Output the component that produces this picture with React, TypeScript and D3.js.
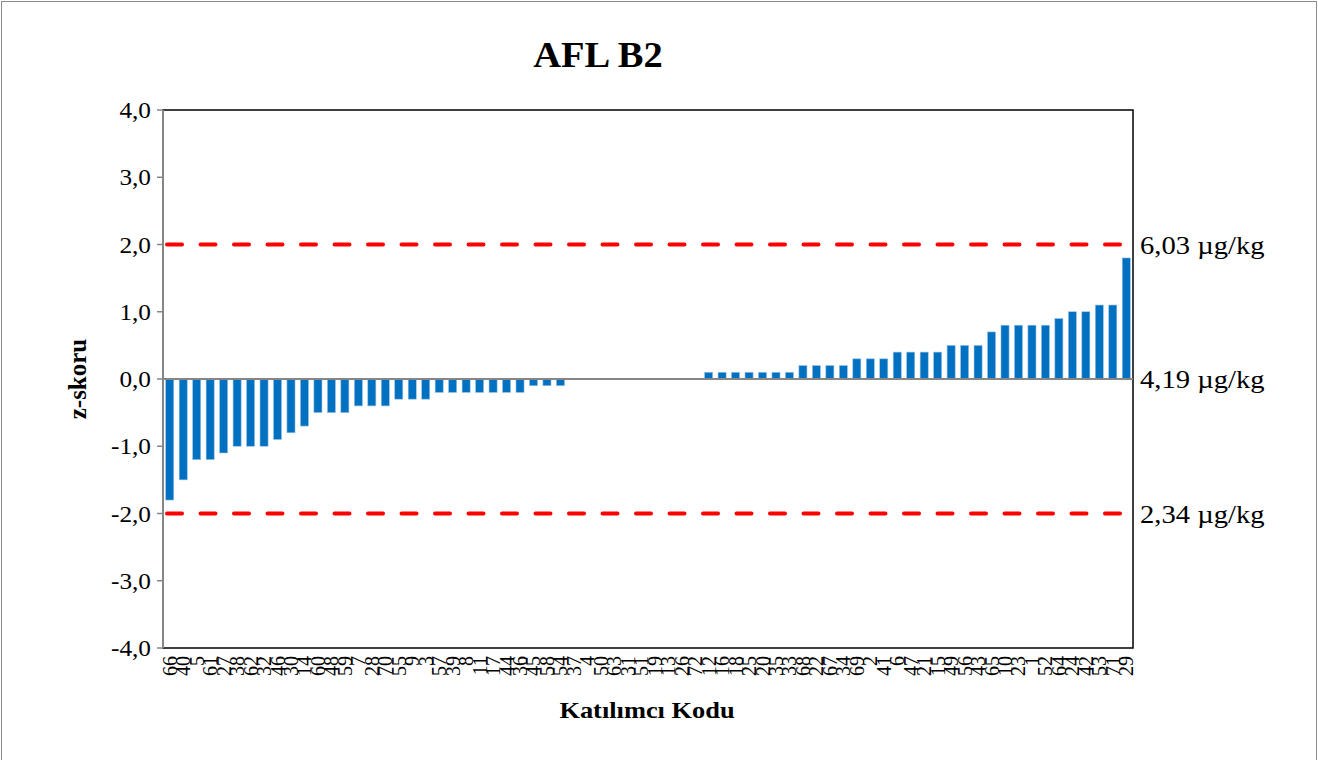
import React, { useRef, useEffect } from "react";
import * as d3 from "d3";

// participant codes, in the order shown on the x axis
const codes = [
  "66", "40", "5", "61", "27", "38", "62", "32", "46", "30", "14", "60", "48", "59", "7", "28", "70", "55",
  "9", "3", "57", "39", "8", "11", "17", "44", "36", "45", "58", "54", "37", "4", "50", "63", "31", "51",
  "19", "13", "26", "72", "12", "16", "18", "25", "20", "35", "33", "68", "22", "67", "34", "69", "2", "41",
  "6", "47", "21", "15", "49", "56", "43", "65", "10", "23", "1", "52", "64", "24", "42", "53", "71", "29",
];

const zScores = [
  -1.8, -1.5, -1.2, -1.2, -1.1, -1.0, -1.0, -1.0, -0.9, -0.8, -0.7, -0.5, -0.5, -0.5, -0.4, -0.4, -0.4, -0.3,
  -0.3, -0.3, -0.2, -0.2, -0.2, -0.2, -0.2, -0.2, -0.2, -0.1, -0.1, -0.1, 0, 0, 0, 0, 0, 0,
  0, 0, 0, 0, 0.1, 0.1, 0.1, 0.1, 0.1, 0.1, 0.1, 0.2, 0.2, 0.2, 0.2, 0.3, 0.3, 0.3,
  0.4, 0.4, 0.4, 0.4, 0.5, 0.5, 0.5, 0.7, 0.8, 0.8, 0.8, 0.8, 0.9, 1.0, 1.0, 1.1, 1.1, 1.8,
];

const yTicks = [4, 3, 2, 1, 0, -1, -2, -3, -4];

// reference lines: z value and matching concentration label
const refLines = [
  { z: 2, label: "6,03 µg/kg", dashed: true },
  { z: 0, label: "4,19 µg/kg", dashed: false },
  { z: -2, label: "2,34 µg/kg", dashed: true },
];

const W = 1318;
const H = 760;
const margin = { top: 110, right: 185, bottom: 112, left: 163 };
const serif = "'Liberation Serif', 'Times New Roman', serif";
const stretch = 1.1; // the picture is a little wider than tall

export default function App() {
  const ref = useRef<SVGSVGElement>(null);

  useEffect(() => {
    const svg = d3.select(ref.current);
    svg.selectAll("*").remove();

    const iw = W - margin.left - margin.right;
    const ih = H - margin.top - margin.bottom;

    const x = d3.scaleBand<string>().domain(codes.map((c, i) => `${i}`)).range([0, iw]).paddingInner(0.4).paddingOuter(0.2);
    const y = d3.scaleLinear().domain([-4, 4]).range([ih, 0]);

    svg.append("rect")
      .attr("x", 1.5).attr("y", 1.5)
      .attr("width", W - 3).attr("height", H - 1)
      .attr("fill", "#fff").attr("stroke", "#8c8c8c").attr("stroke-width", 1);

    svg.append("text")
      .attr("transform", `translate(598,67) scale(${stretch},1)`)
      .attr("text-anchor", "middle")
      .style("font-family", serif)
      .style("font-size", "35px")
      .style("font-weight", "bold")
      .text("AFL B2");

    const g = svg.append("g").attr("transform", `translate(${margin.left},${margin.top})`);

    // plot frame
    g.append("rect")
      .attr("width", iw).attr("height", ih)
      .attr("fill", "none").attr("stroke", "#000").attr("stroke-width", 1.5);

    // y axis
    g.append("line")
      .attr("x1", 0).attr("x2", 0).attr("y1", 0).attr("y2", ih)
      .attr("stroke", "#868686").attr("stroke-width", 2);

    const yt = g.selectAll(".ytick").data(yTicks).enter().append("g")
      .attr("transform", (d) => `translate(0,${y(d)})`);
    yt.append("line").attr("x1", -6).attr("x2", 0).attr("stroke", "#868686").attr("stroke-width", 1.5);
    yt.append("text")
      .attr("transform", `translate(-12,0) scale(${stretch},1)`)
      .attr("dy", "0.35em")
      .attr("text-anchor", "end")
      .style("font-family", serif)
      .style("font-size", "23px")
      .text((d) => d3.format(".1f")(d).replace(".", ",").replace("−", "-"));

    // bars
    g.selectAll(".bar").data(zScores).enter().append("rect")
      .attr("x", (d, i) => x(`${i}`)!)
      .attr("width", x.bandwidth())
      .attr("y", (d) => y(Math.max(0, d)))
      .attr("height", (d) => Math.abs(y(d) - y(0)))
      .attr("fill", "#0070C0")
      .attr("stroke", "#9cc3e6")
      .attr("stroke-width", 0.6);

    // zero line
    g.append("line")
      .attr("x1", 0).attr("x2", iw).attr("y1", y(0)).attr("y2", y(0))
      .attr("stroke", "#868686").attr("stroke-width", 2);

    // dashed limits
    g.selectAll(".limit").data(refLines.filter((r) => r.dashed)).enter().append("line")
      .attr("x1", 4).attr("x2", iw - 4)
      .attr("y1", (d) => y(d.z)).attr("y2", (d) => y(d.z))
      .attr("stroke", "#ff0000").attr("stroke-width", 4)
      .attr("stroke-dasharray", "15 18.5")
      .attr("stroke-linecap", "round");

    g.selectAll(".rlabel").data(refLines).enter().append("text")
      .attr("transform", (d) => `translate(${iw + 7},${y(d.z)}) scale(${stretch},1)`)
      .attr("dy", "0.35em")
      .style("font-family", serif)
      .style("font-size", "26px")
      .text((d) => d.label);

    // x labels
    g.selectAll(".xlabel").data(codes).enter().append("text")
      .attr("transform", (d, i) => `translate(${x(`${i}`)! + x.bandwidth() / 2 + 7},${ih + 8}) rotate(-90)`)
      .attr("text-anchor", "end")
      .style("font-family", serif)
      .style("font-size", "20px")
      .text((d) => d);

    svg.append("text")
      .attr("transform", `translate(647,718) scale(${stretch},1)`)
      .attr("text-anchor", "middle")
      .style("font-family", serif)
      .style("font-size", "24px")
      .style("font-weight", "bold")
      .text("Katılımcı Kodu");

    svg.append("text")
      .attr("transform", `translate(86,${margin.top + y(0)}) rotate(-90)`)
      .attr("text-anchor", "middle")
      .style("font-family", serif)
      .style("font-size", "25px")
      .style("font-weight", "bold")
      .text("z-skoru");
  }, []);

  return <svg ref={ref} width={W} height={H} style={{ position: "absolute", left: 0, top: 0 }} />;
}
